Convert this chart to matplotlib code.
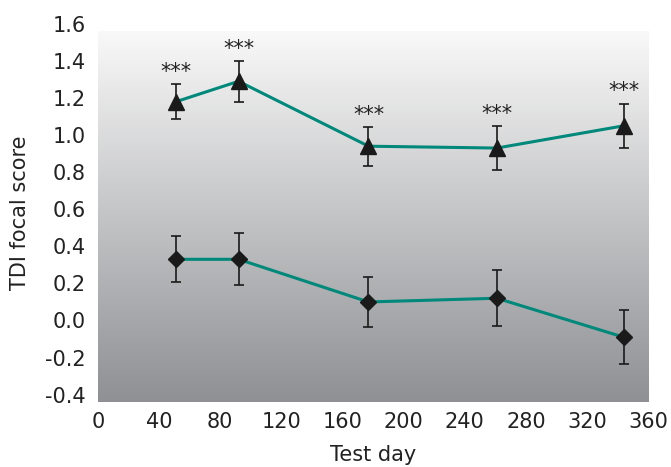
import numpy as np
import matplotlib.pyplot as plt

plt.rcParams['font.family'] = ['DejaVu Sans']

# -----------------------------
# Datos
# -----------------------------
days = [51, 92, 177, 261, 344]
tri_vals = [1.18, 1.29, 0.94, 0.93, 1.05]
tri_err = [0.095, 0.11, 0.105, 0.12, 0.12]
dia_vals = [0.33, 0.33, 0.10, 0.12, -0.09]
dia_err = [0.125, 0.14, 0.137, 0.15, 0.145]
stars = ["***", "***", "***", "***", "***"]

xticks = [0, 40, 80, 120, 160, 200, 240, 280, 320, 360]
yticks = [-0.4, -0.2, 0.0, 0.2, 0.4, 0.6, 0.8, 1.0, 1.2, 1.4, 1.6]

teal = "#00897b"
ink = "#222222"

fig = plt.figure(figsize=(6.71, 4.67), dpi=100)
ax = fig.add_axes([0.146, 0.139, 0.820, 0.810])

# fondo degradado
grad = np.linspace(0, 1, 256).reshape(-1, 1)
top = np.array([0.975, 0.975, 0.975])
bot = np.array([0.56, 0.565, 0.58])
img = top + grad[..., None] * (bot - top)
ax.imshow(img, extent=[0, 360, -0.44, 1.557], aspect='auto', origin='upper', zorder=0)

ax.plot(days, tri_vals, color=teal, lw=2.2, zorder=2)
ax.plot(days, dia_vals, color=teal, lw=2.2, zorder=2)
ax.errorbar(days, tri_vals, yerr=tri_err, fmt='^', color='#1a1a1a', ms=12,
            ecolor='#1a1a1a', elinewidth=1.2, capsize=3.5, capthick=1.2, zorder=3)
ax.errorbar(days, dia_vals, yerr=dia_err, fmt='D', color='#1a1a1a', ms=8,
            ecolor='#1a1a1a', elinewidth=1.2, capsize=3.5, capthick=1.2, zorder=3)

for d, v, e, s in zip(days, tri_vals, tri_err, stars):
    ax.text(d, v + e + 0.012, s, ha='center', va='bottom', fontsize=15, color=ink)

ax.set_xlim(0, 360)
ax.set_ylim(-0.44, 1.6)
ax.set_xticks(xticks)
ax.set_yticks(yticks)
ax.set_yticklabels([f"{t:.1f}" for t in yticks])
ax.tick_params(length=0, labelsize=15, colors=ink)
ax.tick_params(axis='y', pad=9)
ax.tick_params(axis='x', pad=7)
for s in ax.spines.values():
    s.set_visible(False)

ax.set_xlabel("Test day", fontsize=15, color=ink)
ax.set_ylabel("TDI focal score", fontsize=15, color=ink)
ax.xaxis.set_label_coords(0.5, -0.114)
ax.yaxis.set_label_coords(-0.124, 0.5)

fig.savefig("out.png", dpi=100)
